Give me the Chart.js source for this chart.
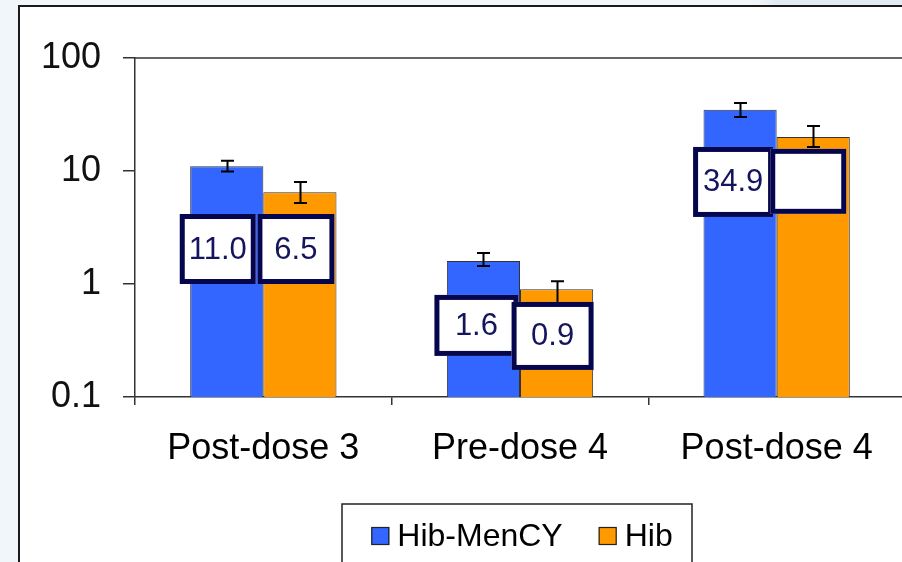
<!DOCTYPE html>
<html>
<head>
<meta charset="utf-8">
<script src="https://cdn.jsdelivr.net/npm/chart.js@4"></script>
<style>
  html, body { margin: 0; padding: 0; overflow: hidden; }
  body { width: 902px; height: 562px; background: linear-gradient(to right, #f1f6fa 0%, #f1f6fa 84%, #e1ebf4 86%, #e1ebf4 100%); position: relative; }
  #panel { position: absolute; left: 18px; top: 5px; width: 1000px; height: 700px; background: #fff; border-left: 2px solid #1a1a1a; border-top: 2px solid #1a1a1a; }
  #wrap { position: absolute; left: 0; top: 0; width: 902px; height: 562px; overflow: hidden; }
  canvas { position: absolute; left: 0; top: 0; }
</style>
</head>
<body>
<div id="panel"></div>
<div id="wrap"><canvas id="myChart" width="960" height="562"></canvas></div>
<script>
// data
const categories = ['Post-dose 3', 'Pre-dose 4', 'Post-dose 4'];
const seriesNames = ['Hib-MenCY', 'Hib'];
const hibMenCY = [11.0, 1.6, 34.9];
const hibMenCYLow = [9.9, 1.44, 30.0];
const hibMenCYHigh = [12.3, 1.88, 40.0];
const hib = [6.5, 0.9, 20.0];
const hibLow = [5.2, 0.68, 16.3];
const hibHigh = [8.0, 1.06, 25.0];
const hibMenCYLabels = ['11.0', '1.6', '34.9'];
const hibLabels = ['6.5', '0.9', ''];
const yTicks = [0.1, 1, 10, 100];

const colors = ['#3366ff', '#ff9900'];
const FONT = "'Liberation Sans', Arial, sans-serif";

// where the value boxes sit (offset from bar centre in px, centre in axis units)
const boxLayout = [
    [{ dx: -9, w: 76, h: 70, yc: 2.04 }, { dx: -7, w: 84, h: 61, yc: 0.43 }, { dx: -7, w: 80, h: 70, yc: 8.0 }],
    [{ dx: -4, w: 77, h: 70, yc: 2.04 }, { dx: -4, w: 82, h: 68, yc: 0.347 }, { dx: -5, w: 76, h: 65, yc: 8.1 }]
];

const errorBars = {
    id: 'errorBars',
    afterDatasetsDraw(chart) {
        const ctx = chart.ctx;
        const y = chart.scales.y;
        const lows = [hibMenCYLow, hibLow], highs = [hibMenCYHigh, hibHigh];
        ctx.save();
        ctx.strokeStyle = '#000';
        ctx.lineWidth = 2;
        chart.data.datasets.forEach((ds, di) => {
            chart.getDatasetMeta(di).data.forEach((bar, i) => {
                const x = Math.round(bar.x) + 0.5;
                const top = y.getPixelForValue(highs[di][i]);
                const bot = y.getPixelForValue(lows[di][i]);
                ctx.beginPath();
                ctx.moveTo(x, top); ctx.lineTo(x, bot);
                ctx.moveTo(x - 6.5, top); ctx.lineTo(x + 6.5, top);
                ctx.moveTo(x - 6.5, bot); ctx.lineTo(x + 6.5, bot);
                ctx.stroke();
            });
        });

        // value boxes
        const texts = [hibMenCYLabels, hibLabels];
        ctx.font = '31px ' + FONT;
        ctx.textAlign = 'center';
        ctx.textBaseline = 'middle';
        for (let i = 0; i < categories.length; i++) {
            for (let di = 0; di < 2; di++) {
                const bar = chart.getDatasetMeta(di).data[i];
                const b = boxLayout[di][i];
                const cx = bar.x + b.dx;
                const cy = y.getPixelForValue(b.yc);
                const l = cx - b.w / 2, t = cy - b.h / 2;
                ctx.fillStyle = '#fff';
                ctx.fillRect(l, t, b.w, b.h);
                ctx.strokeStyle = '#06064f';
                ctx.lineWidth = 5;
                ctx.strokeRect(l + 2.5, t + 2.5, b.w - 5, b.h - 5);
                ctx.fillStyle = '#15155e';
                ctx.fillText(texts[di][i], cx, cy + 1);
            }
        }
        ctx.restore();
    },
    afterDraw(chart) {
        const ctx = chart.ctx;
        const a = chart.chartArea;
        ctx.save();
        // top border of the plot
        ctx.strokeStyle = '#333';
        ctx.lineWidth = 1.5;
        ctx.beginPath();
        ctx.moveTo(a.left, a.top); ctx.lineTo(a.right, a.top);
        ctx.stroke();

        // legend
        const cxL = (a.left + a.right) / 2 - 3;
        const boxL = cxL - 175, boxT = 504;
        ctx.strokeStyle = '#222';
        ctx.lineWidth = 1.5;
        ctx.fillStyle = '#fff';
        ctx.fillRect(boxL, boxT, 350, 120);
        ctx.strokeRect(boxL, boxT, 350, 120);
        ctx.font = '32px ' + FONT;
        ctx.textBaseline = 'middle';
        ctx.textAlign = 'left';
        const w0 = ctx.measureText(seriesNames[0]).width;
        const w1 = ctx.measureText(seriesNames[1]).width;
        const total = 18 + 8 + w0 + 36 + 18 + 8 + w1;
        let x = cxL + 5 - total / 2;
        const my = 536;
        seriesNames.forEach((name, i) => {
            ctx.fillStyle = colors[i];
            ctx.fillRect(x, my - 9, 18, 18);
            ctx.strokeStyle = '#222';
            ctx.lineWidth = 1.2;
            ctx.strokeRect(x + 0.5, my - 8.5, 17, 17);
            ctx.fillStyle = '#000';
            ctx.fillText(name, x + 26, my + 1);
            x += 26 + (i === 0 ? w0 : w1) + 36;
        });
        ctx.restore();
    }
};

const ctx = document.getElementById('myChart').getContext('2d');
const chart = new Chart(ctx, {
    type: 'bar',
    data: {
        labels: categories,
        datasets: [{
            label: seriesNames[0],
            data: hibMenCY,
            backgroundColor: colors[0],
            borderColor: '#333',
            borderWidth: 1,
            categoryPercentage: 0.57,
            barPercentage: 1.0
        }, {
            label: seriesNames[1],
            data: hib,
            backgroundColor: colors[1],
            borderColor: '#333',
            borderWidth: 1,
            categoryPercentage: 0.57,
            barPercentage: 1.0
        }]
    },
    options: {
        responsive: false,
        animation: false,
        layout: { padding: { top: 58, right: 55, left: 0, bottom: 0 } },
        plugins: {
            legend: { display: false },
            tooltip: { enabled: false }
        },
        scales: {
            x: {
                grid: { offset: true, drawOnChartArea: false, tickLength: 8, color: '#333', lineWidth: 1.5 },
                border: { color: '#333', width: 1.5 },
                ticks: { color: '#000', font: { family: FONT, size: 36 }, padding: 22, maxRotation: 0 },
                afterFit(scale) { scale.height = 562 - 397; }
            },
            y: {
                type: 'logarithmic',
                min: 0.1,
                max: 100,
                afterBuildTicks(scale) { scale.ticks = yTicks.map(v => ({ value: v })); },
                grid: { drawOnChartArea: false, tickLength: 12, color: '#333', lineWidth: 1.5 },
                border: { color: '#333', width: 1.5 },
                ticks: {
                    color: '#111',
                    font: { family: FONT, size: 36 },
                    padding: 22,
                    callback: v => String(v)
                },
                afterFit(scale) { scale.width = 135; }
            }
        }
    },
    plugins: [errorBars]
});
</script>
</body>
</html>
